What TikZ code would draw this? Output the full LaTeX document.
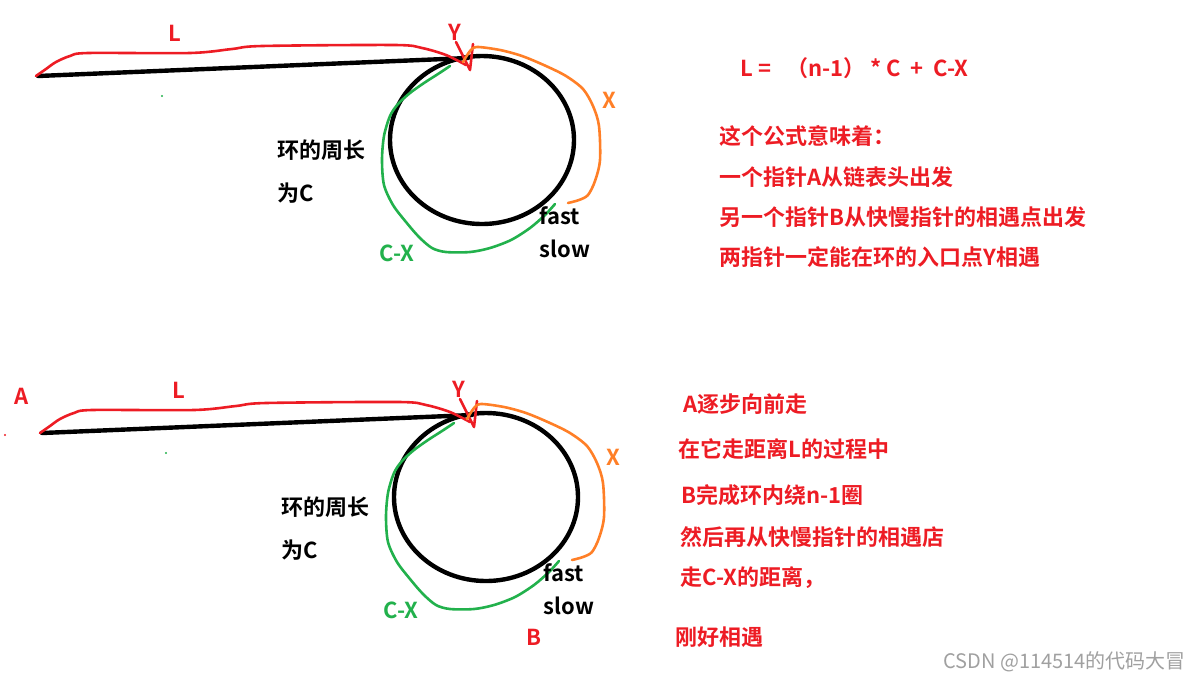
\documentclass[tikz,border=0pt]{standalone}
\usepackage{fontspec}
\setmainfont{Noto Sans CJK SC}[BoldFont={Noto Sans CJK SC Bold}]
\usepackage{tikz}
\usetikzlibrary{positioning}
\definecolor{pred}{HTML}{ED1C24}
\definecolor{porange}{HTML}{FF7F27}
\definecolor{pgreen}{HTML}{22B14C}
\definecolor{pgray}{HTML}{A0A0A0}
\newcommand\txtsz{\fontsize{11}{13}\selectfont}
\tikzset{
  ring/.style={draw=black,line width=2.2pt},
  tail/.style={draw=black,line width=2.2pt,line cap=round},
  pen/.style={line width=1.3pt,line cap=round,line join=round},
  lbl/.style={font=\txtsz\bfseries,inner sep=0pt},
  note/.style={font=\txtsz\bfseries,text=pred,anchor=west,inner sep=0pt},
  speck/.style={inner sep=0pt,minimum size=1.2pt,circle},
}
\begin{document}
\begin{tikzpicture}[x=0.5pt,y=-0.5pt]
  \useasboundingbox (0,0) rectangle (1200,682);
  % two copies of the list with its cycle
  \foreach \dx/\dy [count=\k] in {0/0,4/357} {
    \begin{scope}[shift={(\dx,\dy)}]
      \draw[tail] (38,76) coordinate (head\k) -- (468,58) coordinate (entry\k);
      \draw[ring] (482,140) ellipse [x radius=92,y radius=84];
      \draw[pen,pred] plot[smooth,tension=0.5] coordinates {(36,76) (46,69) (56,62) (70,56) (88,53) (190,53) (232,49) (262,46) (395,45) (422,48) (446,55) (466,65)};
      \draw[pen,pred] (456,42) -- (470,70) -- (473,44);
      \draw[pen,porange] plot[smooth,tension=0.5] coordinates {(463,62) (470,51) (477,47) (500,50) (522,56) (546,66) (566,76) (583,89) (593,106) (599,126) (600,160) (595,181) (588,195) (579,200) (568,203)};
      \draw[pen,pgreen] plot[smooth,tension=0.5] coordinates {(450,66) (438,74) (424,83) (410,93) (398,104) (390,116) (384,136) (382,160) (384,185) (393,205) (406,222) (419,237) (432,248) (446,252) (470,252) (490,248) (511,240) (530,228) (545,215) (555,204)};
      \node[lbl,text=pred] (lenL\k) at (175,33) {L};
      \node[lbl,text=pred] (entY\k) at (455,32) {Y};
      \node[lbl,text=porange] (arcX\k) at (609,100) {X};
      \node[lbl,text=pgreen] (arcCX\k) at (397,253) {C-X};
      \node[lbl] (fast\k) at (560,216) {fast};
      \node[lbl] (slow\k) at (565,249) {slow};
      \node[lbl,anchor=west] (perim\k) at (277,150) {环的周长};
      \node[lbl,anchor=west] (isC\k) at (277,193) {为C};
      \node[speck,fill=pgreen] (dotg\k) at (162,96) {};
    \end{scope}
  }
  \node[lbl,text=pred] (ptrA) at (22,396) {A};
  \node[lbl,text=pred] (ptrB) at (534,637) {B};
  \node[speck,fill=pred] (dotr) at (5,435) {};
  % the formula and what it says
  \node[note] (formula) at (740,68) {L =\ \ \ （n-1）\ * C\ \ + \ C-X};
  \foreach \x/\y/\t [count=\i] in {719/136/这个公式意味着：,719/177/一个指针A从链表头出发,719/217/另一个指针B从快慢指针的相遇点出发,719/257/两指针一定能在环的入口点Y相遇}
    \node[note] (meaning\i) at (\x,\y) {\t};
  \foreach \x/\y/\t [count=\i] in {683/404/A逐步向前走,678/449/在它走距离L的过程中,681/495/B完成环内绕n-1圈,680/537/然后再从快慢指针的相遇店,680/578/走C-X的距离，,675/637/刚好相遇}
    \node[note] (walk\i) at (\x,\y) {\t};
  \node[font=\fontsize{10}{12}\selectfont,text=pgray,anchor=east,inner sep=0pt] (mark) at (1186,662) {CSDN @114514的代码大冒};
\end{tikzpicture}
\end{document}
